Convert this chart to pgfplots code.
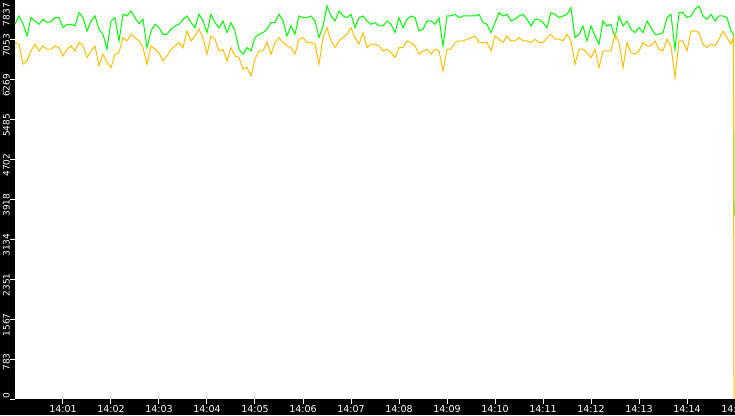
\documentclass[border=0pt]{standalone}
\usepackage{fontspec}
\setmainfont{DejaVu Sans}
\usepackage{pgfplots}
\pgfplotsset{compat=1.18}
\usepackage{pgfplotstable}
\definecolor{lgreen}{RGB}{0,255,0}
\definecolor{lorange}{RGB}{255,192,0}

% t in seconds after 14:00, g = green series, o = orange series
\pgfplotstableread{
t g o
0 7360 7001
5 7523 6968
10 7373 6576
15 7131 6641
20 7490 6837
25 7425 6968
30 7360 6837
35 7458 6935
40 7392 6870
45 7412 6870
50 7490 6935
55 7490 6902
60 7294 6739
65 7360 6870
70 7360 6935
75 7327 6837
80 7588 7001
85 7490 6935
90 7229 6706
95 7425 6837
100 7523 6935
105 7262 6543
110 7164 6772
115 6870 6608
120 7425 6510
125 7490 6772
130 7033 6804
135 7556 7098
140 7523 7033
145 7621 7164
150 7490 7098
155 7373 7033
160 7458 6902
165 6902 6576
170 7229 6935
175 7360 6870
180 7294 6804
185 7164 6641
190 7164 6739
195 7262 6870
200 7327 6935
205 7360 7001
210 7458 6902
215 7523 7229
220 7392 7033
225 7294 7131
230 7556 7262
235 7425 7098
240 7196 6772
245 7556 7131
250 7392 7066
255 7294 6837
260 7425 6870
265 7196 6641
270 7392 6902
275 7229 6739
280 6870 6706
285 6772 6478
290 6902 6510
295 6837 6347
300 7098 6674
305 7164 6837
310 7196 6837
315 7262 7001
320 7392 6772
325 7392 7001
330 7556 7098
335 7425 7001
340 7131 6935
345 7327 6902
350 7164 6772
355 7523 7066
360 7490 7098
365 7490 7001
370 7523 7001
375 7425 6968
380 7098 6576
385 7327 7098
390 7719 7294
395 7523 7033
400 7425 6902
405 7621 7033
410 7523 7098
415 7490 7164
420 7556 7294
425 7294 7098
430 7490 6968
435 7523 7196
440 7425 6902
445 7360 6968
450 7392 6968
455 7327 6935
460 7327 6837
465 7425 6870
470 7360 6804
475 7196 6706
480 7490 6902
485 7294 6902
490 7458 7033
495 7523 7001
500 7490 6935
505 7229 6772
510 7262 6837
515 7425 6870
520 7425 6772
525 7360 6870
530 7490 6837
535 6935 6445
540 7523 6870
545 7523 6870
550 7556 7001
555 7490 7033
560 7523 7033
565 7523 7066
570 7523 7098
575 7523 7131
580 7556 7001
585 7392 7001
590 7360 7001
595 7196 6837
600 7392 7131
605 7588 7066
610 7523 7001
615 7556 7131
620 7425 7033
625 7458 7033
630 7523 7098
635 7556 7033
640 7458 7033
645 7327 7001
650 7458 7066
655 7458 7001
660 7392 7001
665 7294 7098
670 7588 7164
675 7556 7066
680 7490 7066
685 7523 7033
690 7556 7164
695 7686 7033
700 7098 6576
705 7164 6870
710 7327 6870
715 7033 6804
720 7327 6706
725 7131 6870
730 6968 6510
735 7425 6837
740 7327 6837
745 7360 6837
750 7098 7164
755 7523 7001
760 7327 6510
765 7425 7001
770 7262 6804
775 7196 6772
780 7294 6837
785 7196 7001
790 7425 6935
795 7294 6935
800 7164 7033
805 7164 6870
810 7196 6837
815 7490 7066
820 7556 6935
825 6870 6314
830 7588 7033
835 7588 7033
840 7490 6837
845 7523 7229
850 7654 7229
855 7719 7196
860 7523 6968
865 7458 6902
870 7556 6968
875 7425 6935
880 7523 7066
885 7523 7229
890 7490 7098
895 7229 6968
898 7164 7098
898.8 3600 0
}\rates

\begin{document}
\begin{tikzpicture}
\path[use as bounding box, fill=black] (-15pt,-16pt) rectangle (720pt,399pt);
\begin{axis}[
  at={(0pt,0pt)}, anchor=south west,
  width=720pt, height=399pt, scale only axis,
  xmin=0, xmax=900, ymin=0, ymax=7837,
  axis background/.style={fill=white},
  axis x line*=bottom, axis y line*=left,
  axis line style={draw=none},
  tick align=outside, major tick length=5pt,
  tick style={white, line width=1pt},
  xtick={60,120,180,240,300,360,420,480,540,600,660,720,780,840,900},
  xticklabels={14:01,14:02,14:03,14:04,14:05,14:06,14:07,14:08,14:09,14:10,14:11,14:12,14:13,14:14,14:15},
  xticklabel style={white, yshift=2pt, font=\fontsize{9.5}{10}\selectfont},
  ytick={0,783.7,1567.4,2351.1,3134.8,3918.5,4702.2,5485.9,6269.6,7053.3},
  yticklabels={0,783,1567,2351,3134,3918,4702,5485,6269,7053},
  extra y ticks={7837},
  extra y tick labels={7837},
  extra y tick style={yticklabel style={xshift=-9pt}},
  yticklabel style={white, rotate=90, anchor=south east, inner sep=0pt, xshift=6pt, font=\fontsize{9}{10}\selectfont},
]
\addplot[lgreen, line width=1pt] table[x=t, y=g] {\rates};
\addplot[lorange, line width=1pt] table[x=t, y=o] {\rates};
\end{axis}
\end{tikzpicture}
\end{document}
